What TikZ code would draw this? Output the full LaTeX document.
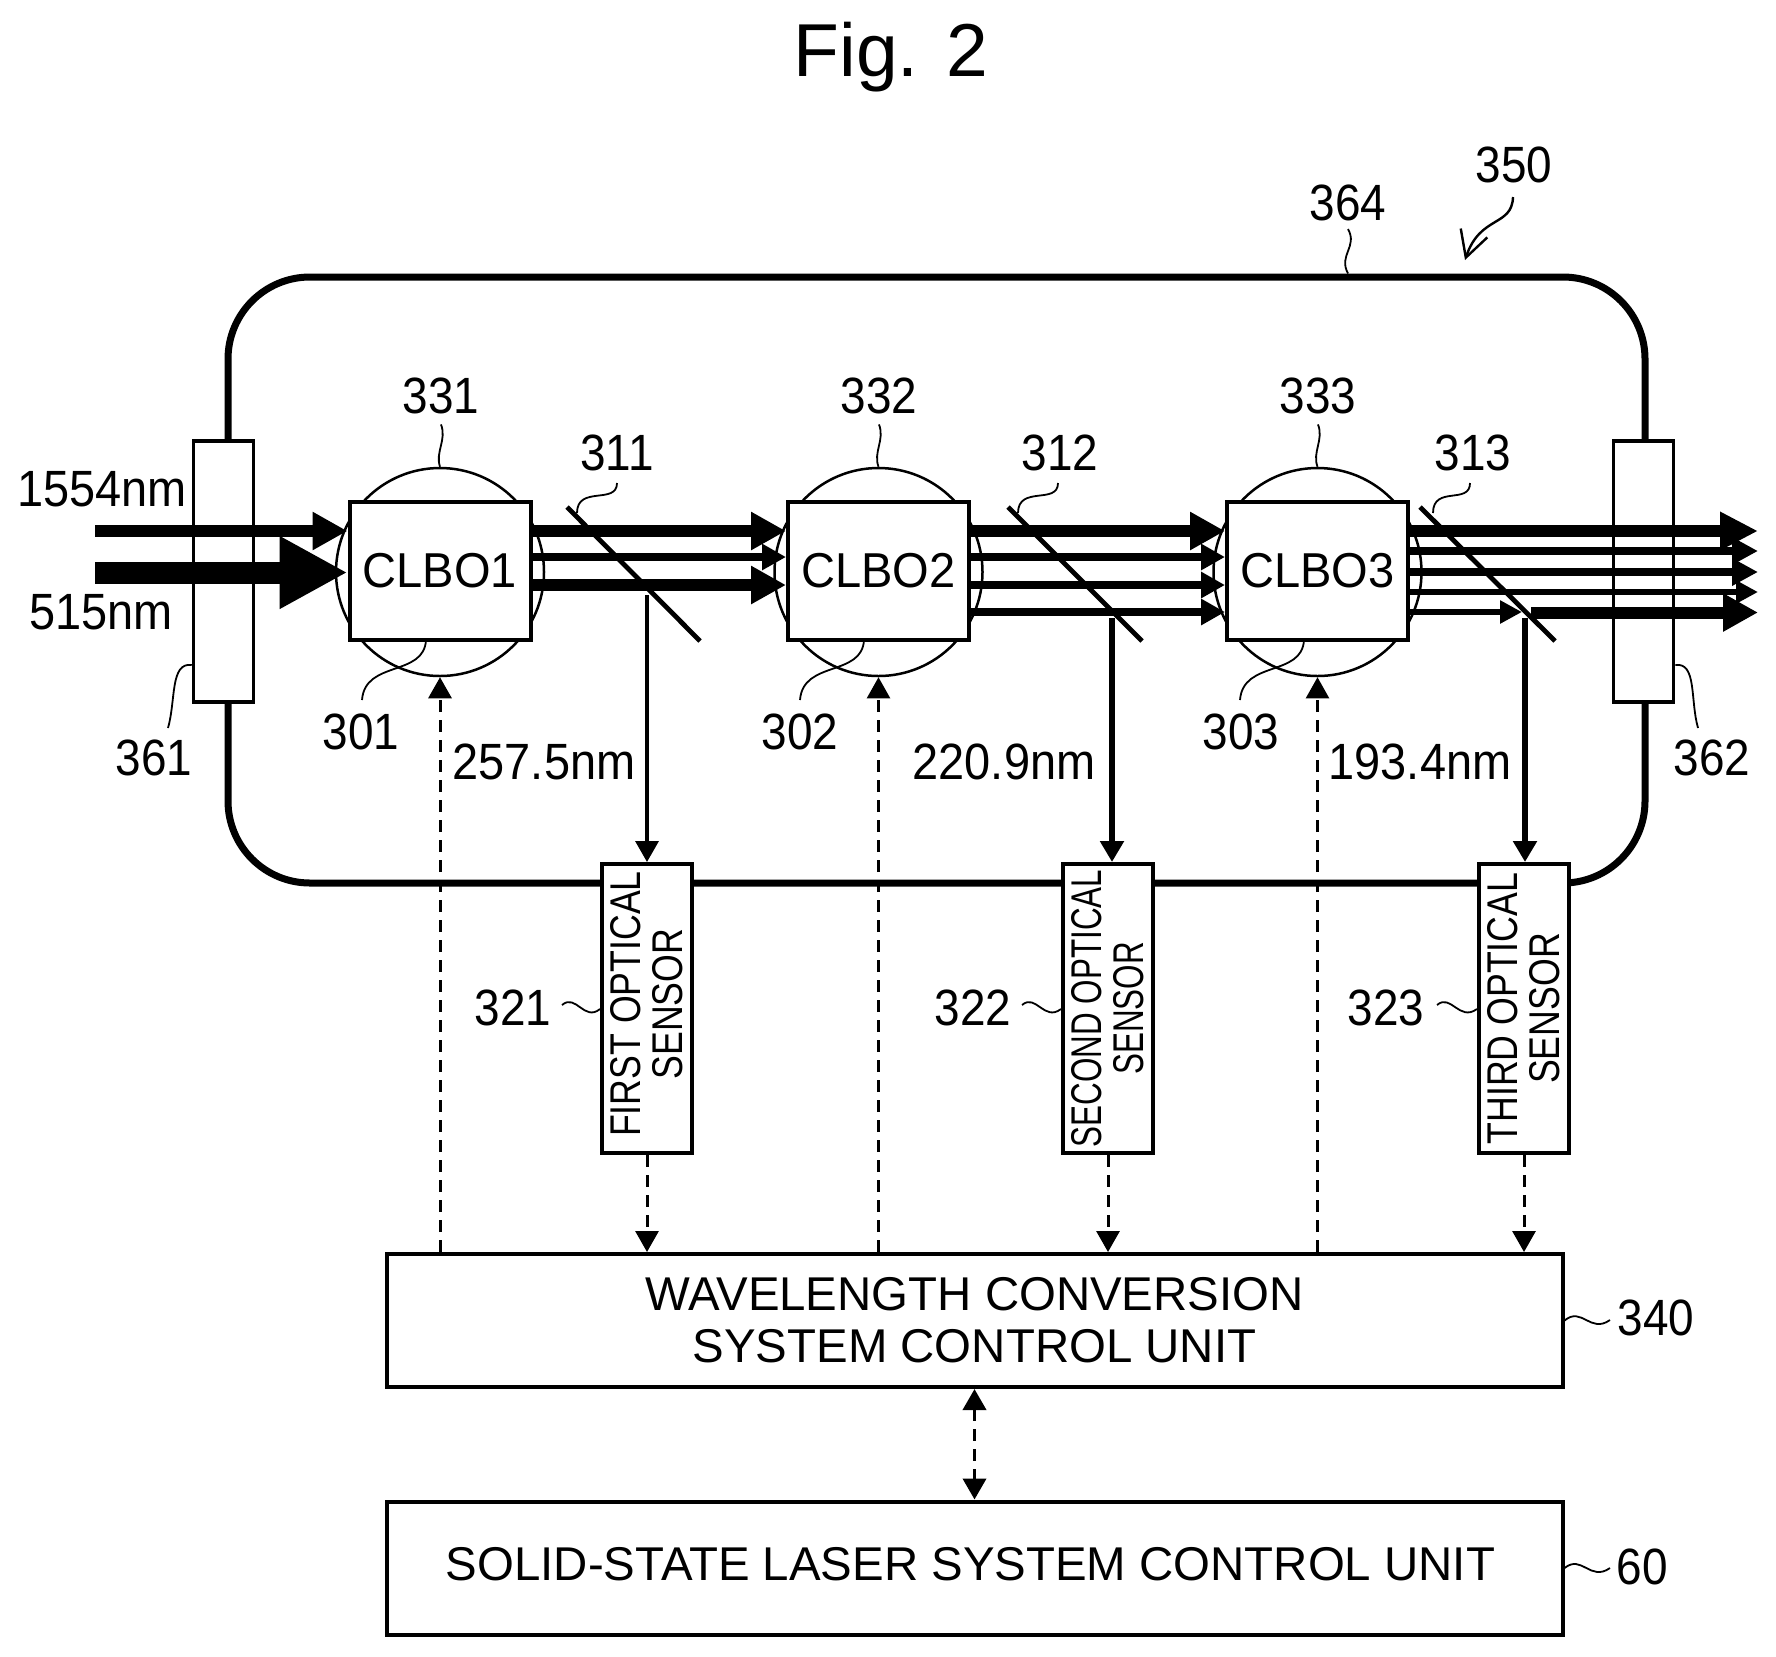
\documentclass[tikz,border=0pt]{standalone}
\usepackage{fontspec}
\setmainfont{Liberation Sans}
\newfontfamily\numfont[FakeStretch=0.9]{Liberation Sans}
\newfontfamily\nmfont[FakeStretch=0.92]{Liberation Sans}
\newfontfamily\clbofont[FakeStretch=0.96]{Liberation Sans}
\newfontfamily\senswide[FakeStretch=0.83]{Liberation Sans}
\newfontfamily\sensnarrow[FakeStretch=0.73]{Liberation Sans}
\usetikzlibrary{
  arrows.meta,
  calc,
  shapes.geometric,
}
\tikzstyle{beamhuge} = [line width=11pt, -{Triangle[length=34pt,width=34pt]}]
\tikzstyle{beamfat} = [line width=6pt, -{Triangle[length=17.5pt,width=18pt]}]
\tikzstyle{beammid} = [line width=4.25pt, -{Triangle[length=12pt,width=12.5pt]}]
\tikzstyle{beamthin} = [line width=3pt, -{Triangle[length=11pt,width=11pt]}]
\tikzstyle{ctrl} = [line width=1.5pt, dash pattern=on 6pt off 4pt,
  -{Triangle[length=10.5pt,width=11.5pt]}]
\tikzstyle{leader} = [line width=.9pt]
\tikzstyle{mirror} = [line width=2.4pt]

\begin{document}
\begin{tikzpicture}[x=0.5pt, y=-0.5pt,
    refnum/.style={font=\numfont\fontsize{25.5}{26}\selectfont, inner sep=5pt},
    wavenum/.style={font=\nmfont\fontsize{25.5}{26}\selectfont, inner sep=5pt},
    window/.style={draw, line width=1.75pt, fill=white,
                   minimum width=30pt, minimum height=130.5pt, inner sep=0pt},
    lens/.style={draw, circle, line width=1.25pt, minimum size=104pt, inner sep=0pt},
    crystal/.style={draw, line width=2pt, fill=white, minimum width=90.5pt,
                    minimum height=69pt, inner sep=0pt,
                    font=\clbofont\fontsize{24.5}{26}\selectfont},
    sensor/.style={draw, line width=2pt, fill=white, rotate=90, align=center,
                   minimum width=144.5pt, minimum height=45pt, inner sep=0pt},
    unit/.style={draw, line width=2pt, align=center, minimum width=588pt,
                 minimum height=66.5pt, inner sep=0pt,
                 font=\fontsize{23.7}{26}\selectfont}]
  \useasboundingbox (0,0) rectangle (1776,1656);
  \node [font=\fontsize{37.5}{40}\selectfont, inner sep=0pt] (title) at (891,57) {Fig. 2};

  % cell wall and its windows
  \node [draw, line width=3.5pt, rounded corners=41pt, minimum width=708.5pt,
         minimum height=303pt, inner sep=0pt] (wall) at (936.5,580) {};
  \node [window] (win1) at (223.5,571.5) {};
  \node [window] (win2) at (1643.5,571.5) {};

  % crystals
  \node [lens] (lens1) at (440,572) {};
  \node [lens] (lens2) at (878.5,572) {};
  \node [lens] (lens3) at (1317.5,572) {};
  \node [crystal] (clbo1) at (440,571) {CLBO1};
  \node [crystal] (clbo2) at (878.5,571) {CLBO2};
  \node [crystal] (clbo3) at (1317.5,571) {CLBO3};

  % sensors and control units
  \node [sensor, font=\senswide\fontsize{21.5}{21}\selectfont] (sens1) at (647,1008.5)
        {\hspace*{4.5pt}FIRST OPTICAL\\\hspace*{4.5pt}SENSOR};
  \node [sensor, font=\sensnarrow\fontsize{21.5}{21}\selectfont] (sens2) at (1108,1008.5)
        {SECOND OPTICAL\\SENSOR};
  \node [sensor, font=\senswide\fontsize{21.5}{21}\selectfont] (sens3) at (1524,1008.5)
        {THIRD OPTICAL\\SENSOR};
  \node [unit] (conv) at (974.5,1320.5) {WAVELENGTH CONVERSION\\SYSTEM CONTROL UNIT};
  \node [unit, text depth=4pt] (laser) at (974.5,1568)
        {SOLID-STATE LASER SYSTEM CONTROL UNIT\hspace*{4pt}};

  % beam heights
  \coordinate (in1) at (95,531);
  \coordinate (in2) at (95,572.5);
  \coordinate (a) at (0,531);
  \coordinate (b) at (0,557);
  \coordinate (c) at (0,585);
  \coordinate (d) at (0,612);
  \coordinate (o1) at (1758,531);
  \coordinate (o2) at (1758,551);
  \coordinate (o3) at (1758,572);
  \coordinate (o4) at (1758,592);
  \coordinate (o5) at (1758,612.5);

  \draw [beamfat] (in1) -- (clbo1.west |- in1);
  \draw [beamhuge] (in2) -- (clbo1.west |- in2);

  \draw [beamfat] (clbo1.east |- a) -- (clbo2.west |- a);
  \draw [beammid] (clbo1.east |- b) -- (clbo2.west |- b);
  \draw [beamfat] (clbo1.east |- c) -- (clbo2.west |- c);

  \draw [beamfat] (clbo2.east |- a) -- (clbo3.west |- a);
  \draw [beammid] (clbo2.east |- b) -- (clbo3.west |- b);
  \draw [beammid] (clbo2.east |- c) -- (clbo3.west |- c);
  \draw [beammid] (clbo2.east |- d) -- (clbo3.west |- d);

  \coordinate (hit3) at (1522,612);
  \coordinate (pass3) at (1531,612.5);
  \draw [beamfat, -{Triangle[length=19pt,width=18pt]}] (clbo3.east |- o1) -- (o1);
  \draw [beammid, -{Triangle[length=13pt,width=13pt]}] (clbo3.east |- o2) -- (o2);
  \draw [beammid, -{Triangle[length=13pt,width=13pt]}] (clbo3.east |- o3) -- (o3);
  \draw [beamthin] (clbo3.east |- o4) -- (o4);
  \draw [beamthin] (clbo3.east |- hit3) -- (hit3);
  \draw [beamfat] (pass3) -- (o5);

  % mirrors
  \coordinate (m1a) at (567,507);
  \coordinate (m1b) at (700,641);
  \coordinate (m2a) at (1008,507);
  \coordinate (m2b) at (1142,641);
  \coordinate (m3a) at (1420,507);
  \coordinate (m3b) at (1555,641);
  \draw [mirror] (m1a) -- (m1b);
  \draw [mirror] (m2a) -- (m2b);
  \draw [mirror] (m3a) -- (m3b);

  % split off to the sensors
  \coordinate (tap1) at (647,595);
  \coordinate (tap2) at (1112,618);
  \coordinate (tap3) at (1525,618);
  \draw [line width=1.7pt, -{Triangle[length=10.5pt,width=11.5pt]}] (tap1) -- (tap1 |- sens1.east);
  \draw [line width=2.6pt, -{Triangle[length=10.5pt,width=11.5pt]}] (tap2) -- (tap2 |- sens2.east);
  \draw [line width=3.2pt, -{Triangle[length=10.5pt,width=11.5pt]}] (tap3) -- (tap3 |- sens3.east);

  % control lines
  \draw [ctrl] (lens1.center |- conv.north) -- (lens1.south);
  \draw [ctrl, line width=1.1pt] (lens2.center |- conv.north) -- (lens2.south);
  \draw [ctrl, line width=1.1pt] (lens3.center |- conv.north) -- (lens3.south);
  \draw [ctrl] (sens1.west) -- (sens1.west |- conv.north);
  \draw [ctrl] (sens2.west) -- (sens2.west |- conv.north);
  \draw [ctrl] (sens3.west) -- (sens3.west |- conv.north);
  \draw [line width=1.9pt, dash pattern=on 6pt off 4pt,
         {Triangle[length=10.5pt,width=11.5pt]}-{Triangle[length=10.5pt,width=11.5pt]}]
        (conv.south) -- (laser.north);

  % wavelengths
  \node [wavenum] (in1nm) at (102,489) {1554nm};
  \node [wavenum] (in2nm) at (101,612) {515nm};
  \node [wavenum] (out1nm) at (544,762) {257.5nm};
  \node [wavenum] (out2nm) at (1004,762) {220.9nm};
  \node [wavenum] (out3nm) at (1420,762) {193.4nm};

  % reference numbers
  \node [refnum] (lab331) at (441,396) {331};
  \node [refnum] (lab332) at (879,396) {332};
  \node [refnum] (lab333) at (1318,396) {333};
  \node [refnum] (lab311) at (617,453) {311};
  \node [refnum] (lab312) at (1060,453) {312};
  \node [refnum] (lab313) at (1473,453) {313};
  \node [refnum] (lab301) at (361,732) {301};
  \node [refnum] (lab302) at (800,732) {302};
  \node [refnum] (lab303) at (1241,732) {303};
  \node [refnum] (lab361) at (154,758) {361};
  \node [refnum] (lab362) at (1712,758) {362};
  \node [refnum] (lab364) at (1348,203) {364};
  \node [refnum] (lab350) at (1514,165) {350};
  \node [refnum] (lab321) at (513,1008) {321};
  \node [refnum] (lab322) at (973,1008) {322};
  \node [refnum] (lab323) at (1386,1008) {323};
  \node [refnum] (lab340) at (1656,1318) {340};
  \node [refnum] (lab60) at (1642,1567) {60};

  % leaders
  \draw [leader] (lab331.south) .. controls (447,440) and (435,452) .. (lens1.north);
  \draw [leader] (lab332.south) .. controls (885,440) and (873,452) .. (lens2.north);
  \draw [leader] (lab333.south) .. controls (1324,440) and (1312,452) .. (lens3.north);
  \coordinate (f1) at (577,513);
  \coordinate (f2) at (1018,513);
  \coordinate (f3) at (1433,513);
  \draw [leader] (617,483) .. controls (617,505) and (577,485) .. (f1);
  \draw [leader] (1058,483) .. controls (1058,505) and (1018,485) .. (f2);
  \draw [leader] (1470,483) .. controls (1470,505) and (1433,485) .. (f3);
  \draw [leader] (426,640) .. controls (424,677) and (365,660) .. (362,700);
  \draw [leader] (864,640) .. controls (862,677) and (803,660) .. (800,700);
  \draw [leader] (1304,640) .. controls (1302,677) and (1243,660) .. (1240,700);
  \draw [leader] (win1.west |- 0,665) .. controls (170,662) and (176,700) .. (168,728);
  \draw [leader] (win2.east |- 0,665) .. controls (1697,662) and (1690,700) .. (1698,728);
  \draw [leader] (1348,229) .. controls (1358,247) and (1338,255) .. (lab364.center |- wall.north);
  \draw [line width=1.2pt, -{Straight Barb[length=13pt,width=14pt]}]
        (1513,197) .. controls (1512,227) and (1480,215) .. (1465,260);
  \draw [leader] (562,1005) .. controls (576,993) and (584,1022) .. (sens1.north |- 0,1009);
  \draw [leader] (1022,1005) .. controls (1036,993) and (1044,1022) .. (sens2.north |- 0,1009);
  \draw [leader] (1437,1005) .. controls (1451,993) and (1459,1022) .. (sens3.north |- 0,1009);
  \draw [leader] (conv.east) .. controls (1582,1306) and (1590,1334) .. (1610,1320);
  \draw [leader] (laser.east) .. controls (1582,1554) and (1590,1582) .. (1610,1568);
\end{tikzpicture}
\end{document}
